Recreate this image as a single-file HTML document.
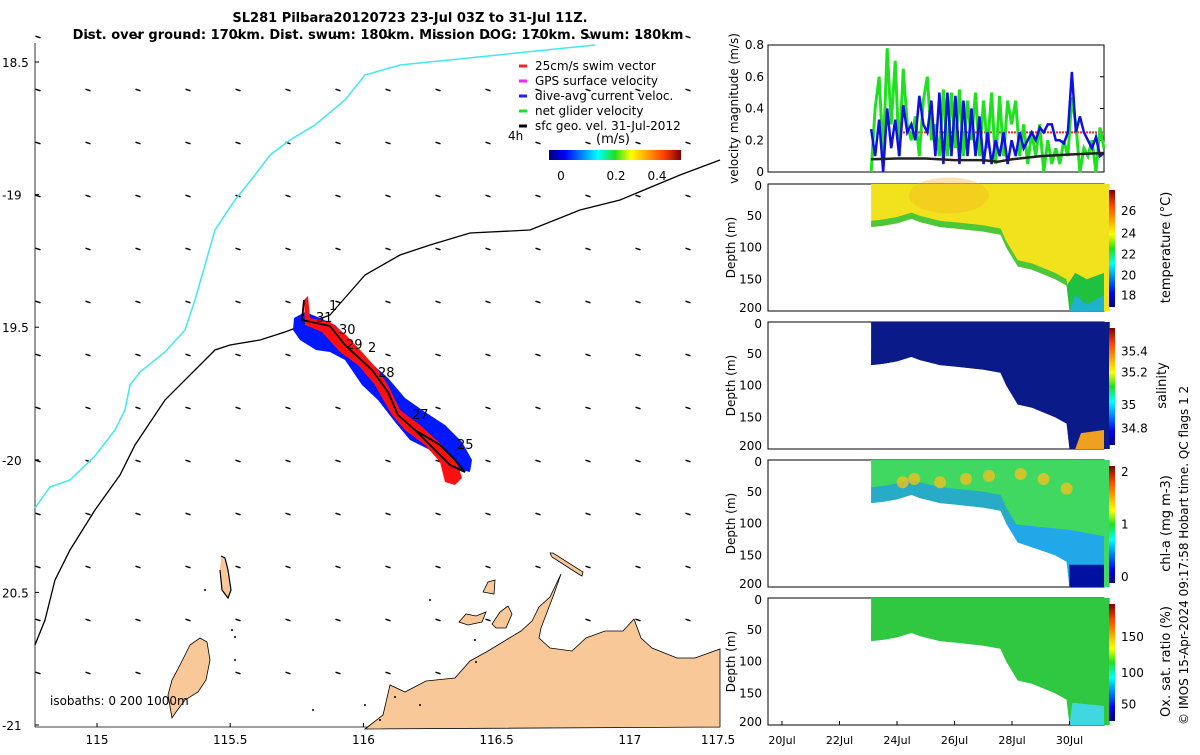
<!DOCTYPE html>
<html><head><meta charset="utf-8"><style>
body{margin:0;background:#fff;width:1200px;height:750px;overflow:hidden;font-family:"Liberation Sans","DejaVu Sans",sans-serif}
svg text{font-family:"DejaVu Sans","Liberation Sans",sans-serif}
</style></head><body>
<svg id="fig" width="1200" height="750" viewBox="0 0 1200 750">
<defs>
<linearGradient id="jetH" x1="0" x2="1" y1="0" y2="0">
<stop offset="0" stop-color="#00007f"/><stop offset="0.12" stop-color="#0000ff"/><stop offset="0.37" stop-color="#00ffff"/><stop offset="0.5" stop-color="#20e020"/><stop offset="0.62" stop-color="#ffff00"/><stop offset="0.87" stop-color="#ff4000"/><stop offset="1" stop-color="#7f0000"/></linearGradient>
<linearGradient id="jetV" x1="0" x2="0" y1="1" y2="0">
<stop offset="0" stop-color="#00007f"/><stop offset="0.12" stop-color="#0000ff"/><stop offset="0.37" stop-color="#00ffff"/><stop offset="0.5" stop-color="#20e020"/><stop offset="0.62" stop-color="#ffff00"/><stop offset="0.87" stop-color="#ff4000"/><stop offset="1" stop-color="#7f0000"/></linearGradient>
</defs>
<g id="map"></g>
<g id="panels"></g>
<text x="410" y="22" text-anchor="middle" font-size="13" font-weight="bold">SL281 Pilbara20120723 23-Jul 03Z to 31-Jul 11Z.</text>
<text x="378" y="39" text-anchor="middle" font-size="13" font-weight="bold">Dist. over ground: 170km. Dist. swum: 180km. Mission DOG: 170km. Swum: 180km</text>
<text transform="translate(1188,725) rotate(-90)" font-size="12">© IMOS 15-Apr-2024 09:17:58 Hobart time. QC flags 1  2</text>
</svg>
<script>
// ---------- velocity panel data ----------
const velStartDay = 23.1, velEndDay = 31.2;
const greenVel = [0,0.4,0.6,0.1,0.78,0.3,0.7,0.1,0.65,0.3,0.2,0.35,0.1,0.45,0.6,0.2,0.3,0.1,0.52,0.1,0.5,0.15,0.52,0.1,0.45,0.2,0.5,0.1,0.45,0.15,0.5,0.05,0.48,0.1,0.45,0.3,0.45,0.1,0.3,0.05,0.25,0.1,0.3,0.0,0.2,0.05,0.15,0.05,0.2,0.1,0.47,0.3,0.0,0.15,0.1,0.2,0.0,0.28,0.15];
const blueVel = [0.27,0.1,0.33,0,0.4,0.15,0.33,0.1,0.42,0.25,0.3,0.2,0.48,0.3,0.25,0.45,0.1,0.5,0.05,0.5,0.1,0.48,0.05,0.45,0.1,0.4,0.1,0.35,0.05,0.25,0.05,0.2,0.1,0.25,0.05,0.2,0.1,0.25,0.15,0.2,0.25,0.2,0.28,0.25,0.3,0.3,0.2,0.2,0.18,0.25,0.63,0.25,0.35,0.25,0.2,0.15,0.22,0.1,0.12];
const blackDays = [23.1,24,25,26,27,27.5,28,29,30,31.2];
const blackVel = [0.08,0.085,0.085,0.075,0.075,0.065,0.08,0.1,0.11,0.12];
const swimVel = 0.25;
const velTicks = [0,0.2,0.4,0.6,0.8];
const dateTicks = [20,22,24,26,28,30];
const dateLabels = ["20Jul","22Jul","24Jul","26Jul","28Jul","30Jul"];
const depthTicks = [0,50,100,150,200];
const bottomDays = [23.1,23.5,24,24.5,24.8,25.5,26,27,27.6,27.8,28.2,28.7,29.5,29.9,30,31.2];
const bottomDepth = [68,66,62,55,60,68,70,75,80,100,130,135,150,160,200,200];
// ---------- map data ----------
const lonTicks = [115,115.5,116,116.5,117,117.5];
const latTicks = [-18.5,-19,-19.5,-20,-20.5,-21];
const latLabels = ["18.5","-19","19.5","-20","20.5","-21"];

const NS="http://www.w3.org/2000/svg";
function mk(tag,attrs,parent,name,txt){const e=document.createElementNS(NS,tag);for(const k in attrs)e.setAttribute(k,attrs[k]);


if(txt!==undefined)e.textContent=txt;parent.appendChild(e);return e;}
const map=document.getElementById('map'), P=document.getElementById('panels');
const lonX=l=>97+(l-115)*266.4, latY=l=>62+(-18.5-l)*265.2;
const tx=d=>782+(d-20)*28.75;
const L=768,R=1104;

// map ticks
lonTicks.forEach(l=>{mk('text',{x:l==117.5?718:lonX(l),y:744,'text-anchor':'middle','font-size':12},map,'x-tick-label',String(l));
if(l<117.5)mk('line',{x1:lonX(l),x2:lonX(l),y1:727,y2:723,stroke:'#000'},map,'x-tick');});
latTicks.forEach((l,i)=>{mk('text',{x:2,y:latY(l)+5,'font-size':12},map,'y-tick-label',latLabels[i]);
mk('line',{x1:35,x2:39,y1:latY(l),y2:latY(l),stroke:'#000'},map,'y-tick');});
mk('line',{x1:35,x2:35,y1:43,y2:727,stroke:'#000','stroke-width':0.8},map,'map-left-axis');
mk('line',{x1:35,x2:720,y1:727,y2:727,stroke:'#000','stroke-width':0.8},map,'map-bottom-axis');
// arrows grid
for(let c=0;c<14;c++)for(let r=0;r<13;r++){const x=38+c*50,y=37+r*53;if(y>725)continue;
mk('line',{x1:x-2.5,y1:y-0.8,x2:x+2.5,y2:y+0.8,stroke:'#000','stroke-width':1.4},map,'surface-current-arrow');}
// land
mk('polygon',{points:"365,729 383,715 390,685 405,692 426,681 455,678 470,661 488,651 521,631 532,621 539,607 550,597 561,574 554,594 541,628 539,638 550,648 572,651 586,638 605,631 623,631 634,619 641,638 652,648 677,658 695,658 720,649 720,727",fill:'#f9c898',stroke:'#000','stroke-width':0.8},map,'mainland');
mk('polygon',{points:"172,718 168,695 172,680 180,665 190,645 200,638 207,642 210,660 206,680 198,692 185,700 176,712",fill:'#f9c898',stroke:'#000','stroke-width':0.8},map,'barrow-island');
[["459,622 466,614 476,616 486,612 482,622 468,625",'island-a'],["492,624 500,612 508,606 512,614 506,628 496,628",'island-b'],["483,592 488,582 495,580 494,594",'island-c'],["550,553 553,553 583,572 582,576 580,575 552,557",'island-d']].forEach(p=>mk('polygon',{points:p[0],fill:'#f9c898',stroke:'#000','stroke-width':0.8},map,p[1]));
mk('polyline',{points:"221,556 225,558 228,570 231,590 228,598 222,590 220,570",fill:'#f9c898',stroke:'#000','stroke-width':1.2},map,'island-chain');
[[232,630],[235,637],[205,590],[235,660],[420,705],[313,710],[365,705],[380,720],[476,662],[395,697],[430,600],[475,640]].forEach(p=>mk('circle',{cx:p[0],cy:p[1],r:1,fill:'#000'},map,'small-island'));
// isobaths
mk('polyline',{points:"35,508 50,487 70,480 95,456 115,430 125,410 130,385 140,372 165,352 185,330 195,300 205,265 215,230 235,200 255,175 270,155 290,140 315,125 345,100 365,75 400,65 595,45",fill:'none',stroke:'#40e8f0','stroke-width':1.5},map,'isobath-1000m');
mk('polyline',{points:"35,645 45,620 55,580 70,550 95,510 120,475 135,445 165,400 195,370 215,350 230,345 260,340 285,332 330,315 365,275 400,255 430,245 470,233 530,230 580,210 620,200 680,175 720,160",fill:'none',stroke:'#000','stroke-width':1.3},map,'isobath-200m');
// glider track
mk('polygon',{points:"294,318 305,312 320,318 335,325 348,338 370,362 388,378 405,398 425,412 445,425 462,442 472,460 470,472 462,470 448,462 430,450 410,440 395,422 378,400 362,385 345,360 330,352 316,350 300,340 293,330",fill:'#0018ff'},map,'dive-avg-current');
mk('polygon',{points:"304,300 308,296 310,318 330,322 346,335 362,352 378,370 388,385 400,410 420,425 442,445 458,465 462,478 455,485 445,482 440,462 425,445 405,430 392,415 375,385 358,365 340,352 322,332 305,325",fill:'#ff1010'},map,'swim-vector');
mk('polyline',{points:"304,300 302,320 330,326 345,345 372,370 388,392 398,415 415,430 440,445 455,460 465,472 450,465 430,445 415,430",fill:'none',stroke:'#000','stroke-width':1.8},map,'glider-track');
[["1",329,310],["31",316,322],["30",339,334],["29",346,349],["2",368,352],["28",378,377],["27",412,419],["25",457,449]].forEach(t=>mk('text',{x:t[1],y:t[2],'font-size':13},map,'day-label',t[0]));
mk('text',{x:50,y:705,'font-size':12},map,'isobath-legend','isobaths: 0   200  1000m');
// legend
[["#ff2020","25cm/s swim vector"],["#ff20ff","GPS surface velocity"],["#2020ff","dive-avg current veloc."],["#20e020","net glider velocity"],["#000","sfc geo. vel. 31-Jul-2012"]].forEach((e,i)=>{const y=66+i*15;
mk('line',{x1:519,x2:527,y1:y,y2:y,stroke:e[0],'stroke-width':3},map,'legend-swatch');
mk('text',{x:535,y:y+4,'font-size':12},map,'legend-entry',e[1]);});
mk('text',{x:508,y:140,'font-size':12},map,'scale-4h','4h');
mk('text',{x:596,y:143,'font-size':13},map,'colorbar-title','(m/s)');
mk('rect',{x:549,y:150,width:132,height:10,fill:'url(#jetH)'},map,'speed-colorbar');
[["0",561],["0.2",616],["0.4",657]].forEach(t=>mk('text',{x:t[1],y:180,'font-size':12,'text-anchor':'middle'},map,'colorbar-tick',t[0]));

// ---------- velocity panel ----------
const vTop=45,vBot=172, vy=v=>vBot-v/0.8*(vBot-vTop);
mk('rect',{x:L,y:vTop,width:R-L,height:vBot-vTop,fill:'none',stroke:'#000'},P,'velocity-axes');
velTicks.forEach(v=>{mk('text',{x:L-4,y:vy(v)+4,'font-size':12,'text-anchor':'end'},P,'velocity-tick',String(v));
mk('line',{x1:R-4,x2:R,y1:vy(v),y2:vy(v),stroke:'#000'},P,'velocity-tick-mark');});
mk('text',{transform:`translate(${L-30},${(vTop+vBot)/2}) rotate(-90)`,'font-size':12,'text-anchor':'middle'},P,'velocity-y-title','velocity magnitude (m/s)');
const ser=(arr)=>arr.map((v,i)=>tx(velStartDay+i*(velEndDay-velStartDay)/(arr.length-1))+','+vy(v)).join(' ');
mk('line',{x1:tx(24),x2:R,y1:vy(swimVel),y2:vy(swimVel),stroke:'#ff2020','stroke-width':2,'stroke-dasharray':'2,1'},P,'swim-speed-line');
mk('polyline',{points:ser(greenVel),fill:'none',stroke:'#20e020','stroke-width':3},P,'net-glider-velocity-line');
mk('polyline',{points:ser(blueVel),fill:'none',stroke:'#1010e0','stroke-width':2.5},P,'dive-avg-current-line');
mk('polyline',{points:blackDays.map((d,i)=>tx(d)+','+vy(blackVel[i])).join(' '),fill:'none',stroke:'#222','stroke-width':2.5},P,'surface-geo-velocity-line');

// ---------- depth panels ----------
const panels=[
 {top:184,name:'temperature',label:'temperature (°C)',fill:'#f2e21e',band:'#20c040',ticks:[["26",0.18],["24",0.37],["22",0.55],["20",0.73],["18",0.9]]},
 {top:322,name:'salinity',label:'salinity',fill:'#0a1a88',band:'#0a1a88',ticks:[["35.4",0.2],["35.2",0.38],["35",0.66],["34.8",0.86]]},
 {top:460,name:'chl-a',label:'chl-a (mg m-3)',fill:'#40d860',band:'#20a0e0',ticks:[["2",0.05],["1",0.5],["0",0.95]]},
 {top:598,name:'oxygen',label:'Ox. sat. ratio (%)',fill:'#30c840',band:'#30c840',ticks:[["150",0.28],["100",0.59],["50",0.86]]}];
panels.forEach((p,pi)=>{const H=127,dy=d=>p.top+d/200*H;
 mk('rect',{x:L,y:p.top,width:R-L,height:H,fill:'none',stroke:'#000'},P,p.name+'-axes');
 depthTicks.forEach(d=>mk('text',{x:L-6,y:dy(d)+(d==0?6:d==200?1:4),'font-size':12,'text-anchor':'end'},P,'depth-tick',String(d)));
 mk('text',{transform:`translate(${L-33},${p.top+H/2}) rotate(-90)`,'font-size':12,'text-anchor':'middle'},P,'depth-y-title','Depth (m)');
 const top=`${tx(bottomDays[0])},${dy(0)} ${tx(31.4)},${dy(0)} `;
 const bot=bottomDays.map((d,i)=>tx(d)+','+dy(bottomDepth[i])).reverse().join(' ');
 const band=bottomDays.map((d,i)=>tx(d)+','+dy(Math.max(0,bottomDepth[i]-(pi==0?10:25)))).reverse().join(' ');
 mk('polygon',{points:top+`${tx(31.4)},${dy(200)} `+bot,fill:p.fill},P,p.name+'-section');
 mk('polygon',{points:bottomDays.map((d,i)=>tx(d)+','+dy(bottomDepth[i])).join(' ')+' '+band,fill:p.band,opacity:0.8},P,p.name+'-bottom-layer');
 const cbx=1109,cy0=p.top+6,cy1=p.top+H-4;
 mk('rect',{x:cbx,y:cy0,width:6,height:cy1-cy0,fill:'url(#jetV)'},P,p.name+'-colorbar');
 p.ticks.forEach(t=>mk('text',{x:1121,y:cy0+t[1]*(cy1-cy0)+4,'font-size':12},P,'colorbar-tick',t[0]));
 mk('text',{transform:`translate(${pi==1?1166:1170},${p.top+H/2}) rotate(-90)`,'font-size':13,'text-anchor':'middle'},P,p.name+'-colorbar-title',p.label);
});
// extra features
const t0=panels[0].top, d0=d=>t0+d/200*127;
mk('ellipse',{cx:tx(25.8),cy:d0(18),rx:40,ry:18,fill:'#f5b020',opacity:0.35},P,'warm-patch');
mk('polygon',{points:`${tx(29.9)},${d0(160)} ${tx(30.2)},${d0(140)} ${tx(30.6)},${d0(150)} ${tx(31.2)},${d0(140)} ${tx(31.2)},${d0(200)} ${tx(30)},${d0(200)}`,fill:'#20c040'},P,'cool-water');
mk('polygon',{points:`${tx(30)},${d0(200)} ${tx(30.2)},${d0(175)} ${tx(30.6)},${d0(190)} ${tx(31.2)},${d0(175)} ${tx(31.2)},${d0(200)}`,fill:'#20b0d0'},P,'cold-water');
const s0=panels[1].top, ds=d=>s0+d/200*127;
mk('polygon',{points:`${tx(30.2)},${ds(200)} ${tx(30.4)},${ds(175)} ${tx(31.2)},${ds(170)} ${tx(31.2)},${ds(200)}`,fill:'#f0a020'},P,'salty-water');
const c0=panels[2].top, dc=d=>c0+d/200*127;
mk('polygon',{points:`${tx(27.8)},${dc(100)} ${tx(28.2)},${dc(130)} ${tx(29.5)},${dc(150)} ${tx(29.9)},${dc(160)} ${tx(30)},${dc(200)} ${tx(31.2)},${dc(200)} ${tx(31.2)},${dc(120)} ${tx(30)},${dc(110)}`,fill:'#20a8e8'},P,'chl-deep-blue');
mk('rect',{x:tx(30),y:dc(165),width:tx(31.2)-tx(30),height:dc(200)-dc(165),fill:'#0010a0'},P,'chl-bottom');
[[24.2,35],[24.6,30],[25.5,35],[26.4,30],[27.2,25],[28.3,22],[29.1,30],[29.9,45]].forEach(q=>mk('circle',{cx:tx(q[0]),cy:dc(q[1]),r:6,fill:'#f0c020',opacity:0.8},P,'chl-patch'));
const o0=panels[3].top, dox=d=>o0+d/200*127;
mk('polygon',{points:`${tx(30)},${dox(200)} ${tx(30.1)},${dox(165)} ${tx(31.2)},${dox(170)} ${tx(31.2)},${dox(200)}`,fill:'#40d8e0'},P,'ox-low');
// date axis
dateTicks.forEach((d,i)=>{mk('text',{x:tx(d),y:744,'font-size':11,'text-anchor':'middle'},P,'date-tick-label',dateLabels[i]);
mk('line',{x1:tx(d),x2:tx(d),y1:725,y2:721,stroke:'#000'},P,'date-tick');});
</script>
</body></html>
